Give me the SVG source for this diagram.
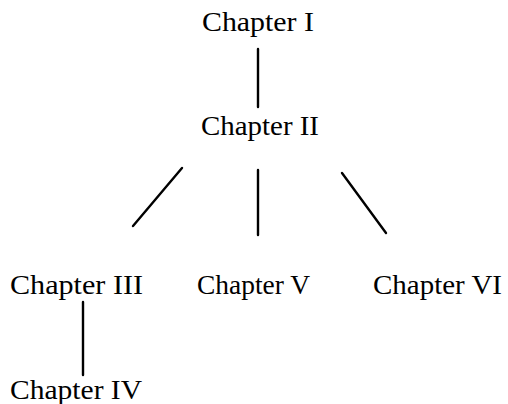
<svg xmlns="http://www.w3.org/2000/svg" width="508" height="404" viewBox="0 0 508 404">
<style>
text{font-family:"Liberation Serif","DejaVu Serif",serif;font-size:28px;fill:#000}
.c line{stroke:#000;stroke-width:2.4;stroke-linecap:round}
</style>
<rect width="508" height="404" fill="#fff"/>
<g class="c" id="connectors">
<line x1="258" y1="49" x2="258" y2="107"/>
<line x1="182" y1="168" x2="133" y2="226"/>
<line x1="258" y1="170" x2="258" y2="235"/>
<line x1="342" y1="173" x2="386" y2="233"/>
<line x1="83" y1="302" x2="83" y2="375"/>
</g>
<g id="n1"><text x="202" y="31" textLength="112" lengthAdjust="spacingAndGlyphs">Chapter I</text></g>
<g id="n2"><text x="201" y="135" textLength="118" lengthAdjust="spacingAndGlyphs">Chapter II</text></g>
<g id="n3"><text x="10" y="294" textLength="133" lengthAdjust="spacingAndGlyphs">Chapter III</text></g>
<g id="n5"><text x="197" y="294" textLength="113" lengthAdjust="spacingAndGlyphs">Chapter V</text></g>
<g id="n6"><text x="373" y="294" textLength="129" lengthAdjust="spacingAndGlyphs">Chapter VI</text></g>
<g id="n4"><text x="10" y="399" textLength="132" lengthAdjust="spacingAndGlyphs">Chapter IV</text></g>
</svg>
